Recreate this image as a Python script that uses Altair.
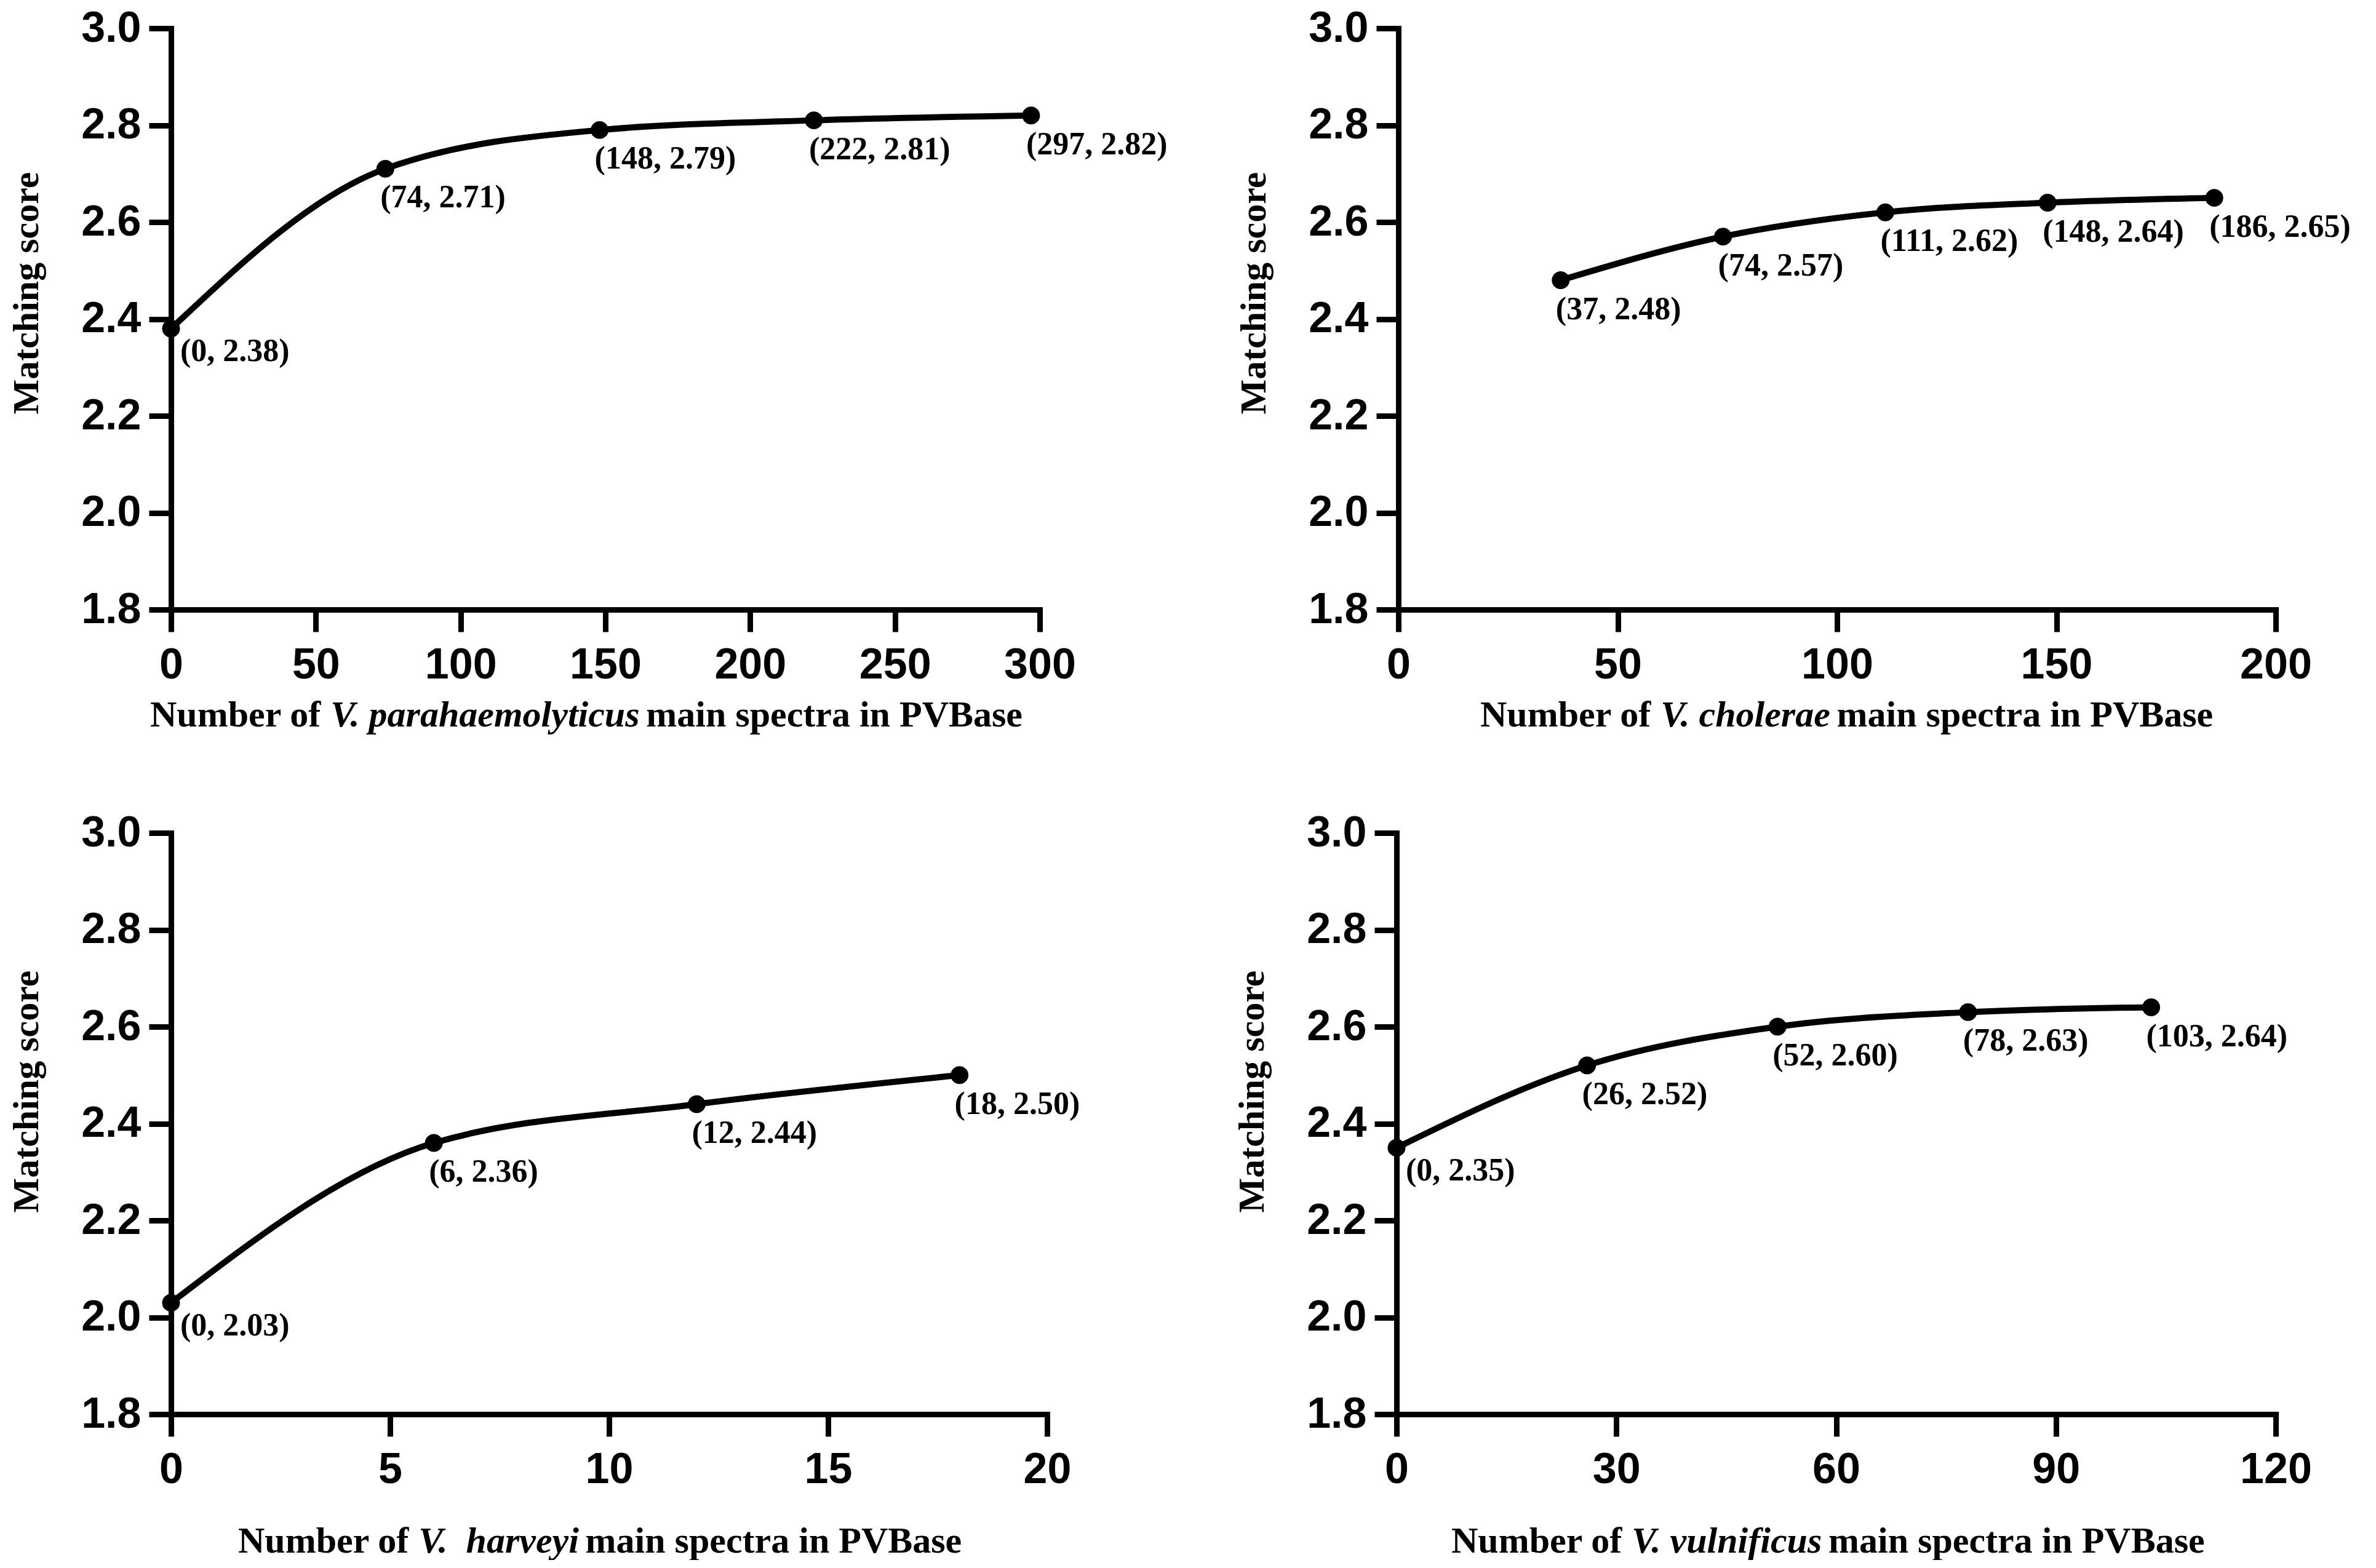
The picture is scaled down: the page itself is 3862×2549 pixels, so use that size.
import altair as alt
import pandas as pd

# ---------------- data ----------------
P1_X = [0, 74, 148, 222, 297]
P1_Y = [2.38, 2.71, 2.79, 2.81, 2.82]
P2_X = [37, 74, 111, 148, 186]
P2_Y = [2.48, 2.57, 2.62, 2.64, 2.65]
P3_X = [0, 6, 12, 18]
P3_Y = [2.03, 2.36, 2.44, 2.50]
P4_X = [0, 26, 52, 78, 103]
P4_Y = [2.35, 2.52, 2.60, 2.63, 2.64]

P1_XTICKS = [0, 50, 100, 150, 200, 250, 300]
P2_XTICKS = [0, 50, 100, 150, 200]
P3_XTICKS = [0, 5, 10, 15, 20]
P4_XTICKS = [0, 30, 60, 90, 120]
Y_TICKS = [1.8, 2.0, 2.2, 2.4, 2.6, 2.8, 3.0]

SPECIES = ["V. parahaemolyticus", "V. cholerae", "V.\u00a0\u00a0harveyi", "V. vulnificus"]
TITLE_PRE = "Number of"
TITLE_POST = "main spectra in PVBase"
Y_TITLE = "Matching score"

# ---------------- styling ----------------
SERIF = "Liberation Serif, Times New Roman, serif"
SANS = "Liberation Sans, Arial, sans-serif"
TITLE_SIZE = 60
ANN_SIZE = 52
HEIGHT = 945

# Times New Roman bold / bold-italic advance widths (per 1000 em) for title layout
BOLD_W = {"N": 722, "u": 556, "m": 833, "b": 556, "e": 444, "r": 444, "o": 500,
          "f": 333, "a": 500, "i": 278, "n": 556, "s": 389, "p": 556, "c": 444,
          "t": 333, "P": 611, "V": 722, "B": 667, " ": 250}
BOLDIT_W = {"V": 667, ".": 250, " ": 250, "\u00a0": 250, "p": 500, "a": 500,
            "r": 389, "h": 556, "e": 444, "m": 778, "o": 500, "l": 278, "y": 444,
            "t": 278, "i": 278, "c": 444, "u": 556, "s": 389, "v": 444, "n": 556,
            "f": 333}


def tw(s, table, size):
    return sum(table.get(ch, 500) for ch in s) * size / 1000.0


def panel(xs, ys, xticks, species, width, title_start, title_off, ytitle_y):
    labels = [f"({x}, {y:.2f})" for x, y in zip(xs, ys)]
    df = pd.DataFrame({"x": xs, "y": ys, "label": labels})
    base = alt.Chart(df)
    xenc = alt.X("x:Q", scale=alt.Scale(domain=[xticks[0], xticks[-1]], nice=False, zero=False),
                 axis=alt.Axis(values=xticks, title=None, format="d", labelFlush=False))
    yenc = alt.Y("y:Q", scale=alt.Scale(domain=[Y_TICKS[0], Y_TICKS[-1]], nice=False, zero=False),
                 axis=alt.Axis(values=Y_TICKS, format=".1f", title=Y_TITLE, titleY=ytitle_y,
                               labelFlush=False))
    line = base.mark_line(interpolate="monotone", color="black", strokeWidth=10).encode(x=xenc, y=yenc)
    pts = base.mark_point(filled=True, shape="circle", size=840, color="black", opacity=1).encode(
        x="x:Q", y="y:Q")
    ann_style = dict(align="left", baseline="middle", font=SERIF, fontWeight="bold",
                     fontSize=ANN_SIZE, color="black")
    lbl0 = base.transform_filter("datum.x == 0").mark_text(dx=15, dy=37, **ann_style).encode(
        x="x:Q", y="y:Q", text="label:N")
    lbl = base.transform_filter("datum.x != 0").mark_text(dx=-8, dy=47, **ann_style).encode(
        x="x:Q", y="y:Q", text="label:N")

    # x-axis title built from three text pieces (regular / italic / regular)
    w_pre = tw(TITLE_PRE, BOLD_W, TITLE_SIZE)
    w_sp = tw(" ", BOLD_W, TITLE_SIZE)
    w_sp_it = tw(species, BOLDIT_W, TITLE_SIZE)
    x1 = title_start
    x2 = x1 + w_pre + w_sp
    x3 = x2 + w_sp_it + w_sp - 12
    ty = HEIGHT + title_off
    tstyle = dict(align="left", baseline="alphabetic", font=SERIF, fontWeight="bold",
                  fontSize=TITLE_SIZE, color="black")
    t1 = alt.Chart(pd.DataFrame({"t": [TITLE_PRE]})).mark_text(**tstyle).encode(
        x=alt.value(x1), y=alt.value(ty), text="t:N")
    t2 = alt.Chart(pd.DataFrame({"t": [species]})).mark_text(fontStyle="italic", **tstyle).encode(
        x=alt.value(x2), y=alt.value(ty), text="t:N")
    t3 = alt.Chart(pd.DataFrame({"t": [TITLE_POST]})).mark_text(**tstyle).encode(
        x=alt.value(x3), y=alt.value(ty), text="t:N")

    return alt.layer(line, pts, lbl0, lbl, t1, t2, t3).properties(width=width, height=HEIGHT)


p1 = panel(P1_X, P1_Y, P1_XTICKS, SPECIES[0], 1412, -34, 190, 430)
p2 = panel(P2_X, P2_Y, P2_XTICKS, SPECIES[1], 1426, 133, 190, 430)
p3 = panel(P3_X, P3_Y, P3_XTICKS, SPECIES[2], 1424, 109, 225, 420)
p4 = panel(P4_X, P4_Y, P4_XTICKS, SPECIES[3], 1429, 89, 225, 420)

top = alt.hconcat(p1, p2, spacing=583, bounds="flush")
bottom = alt.hconcat(p3, p4, spacing=568, bounds="flush")

chart = alt.vconcat(top, bottom, spacing=126).properties(
    padding={"top": 3, "left": 5, "right": 0, "bottom": 0}, background="white"
).configure_view(stroke=None).configure_axis(
    grid=False,
    domainColor="black", domainWidth=9, domainCap="square",
    tickColor="black", tickWidth=9, tickSize=36,
    labelColor="black", labelFont=SANS, labelFontWeight="bold", labelFontSize=70,
    titleColor="black", titleFont=SERIF, titleFontWeight="bold", titleFontSize=60,
).configure_axisX(labelPadding=20).configure_axisY(labelPadding=13, titlePadding=57)

chart.save("out.html", embed_options={"renderer": "svg", "actions": False})
